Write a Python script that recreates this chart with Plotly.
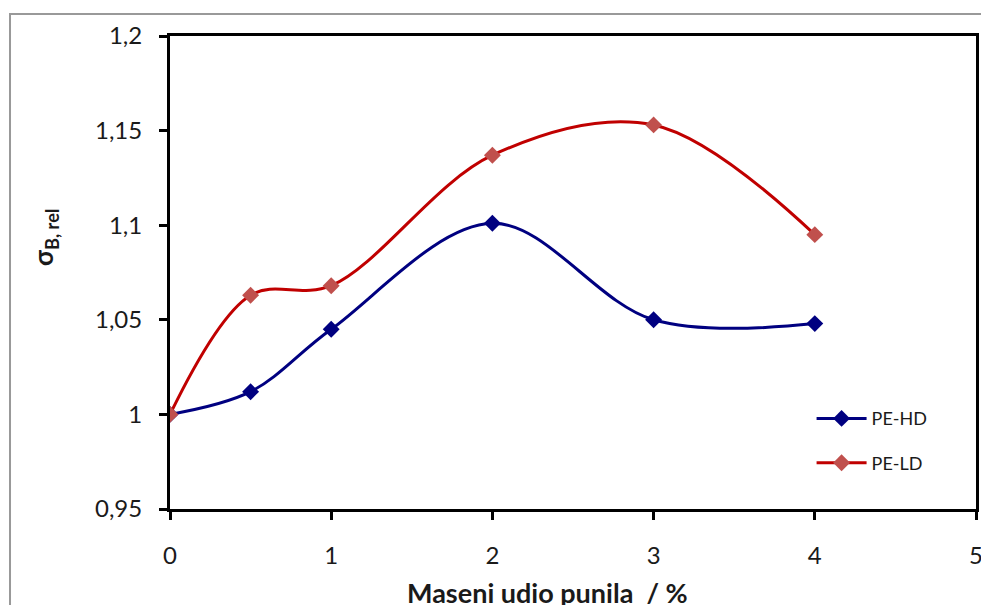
import plotly.graph_objects as go

# Values
filler = [0, 0.5, 1, 2, 3, 4]
pe_hd = [1.0, 1.012, 1.045, 1.101, 1.050, 1.048]
pe_ld = [1.0, 1.063, 1.068, 1.137, 1.153, 1.095]

y_ticks = [0.95, 1.0, 1.05, 1.1, 1.15, 1.2]
y_labels = ["0,95", "1", "1,05", "1,1", "1,15", "1,2"]
x_ticks = [0, 1, 2, 3, 4, 5]

FONT = "Lato, 'Open Sans', sans-serif"
TEXT = "#1a1a1a"

fig = go.Figure()

# PE-HD
fig.add_trace(go.Scatter(
    x=filler, y=pe_hd, mode="lines+markers", name="PE-HD", legendgroup="hd",
    line=dict(color="#000080", width=3, shape="spline", smoothing=1),
    marker=dict(symbol="diamond", size=13, color="#000080"),
))

# PE-LD
fig.add_trace(go.Scatter(
    x=filler, y=pe_ld, mode="lines+markers", name="PE-LD", legendgroup="ld",
    line=dict(color="#C00000", width=3, shape="spline", smoothing=1),
    marker=dict(symbol="diamond", size=13, color="#C0504D"),
))

axis_style = dict(
    showline=True, linecolor="black", linewidth=3, mirror=True,
    ticks="outside", ticklen=8, tickwidth=3, tickcolor="black",
    showgrid=False, zeroline=False, automargin=False,
    tickfont=dict(family=FONT, size=24, color=TEXT),
)

fig.update_xaxes(range=[0, 5], tickvals=x_ticks, ticklabelstandoff=15, **axis_style)
fig.update_yaxes(range=[0.95, 1.2], tickvals=y_ticks, ticktext=y_labels,
                 ticklabelstandoff=12, **axis_style)

# axis titles (placed as annotations, the reference has them off-centre)
fig.add_annotation(text="<b>Maseni udio punila  / %</b>", xref="paper", yref="paper",
                   x=0.468, y=-0.1755, xanchor="center", yanchor="middle",
                   showarrow=False, font=dict(family=FONT, size=27, color=TEXT))
fig.add_annotation(text="<b>σ<sub>B, rel</sub></b>", xref="paper", yref="paper",
                   x=-0.155, y=0.573, xanchor="center", yanchor="middle",
                   textangle=-90, showarrow=False,
                   font=dict(family=FONT, size=26, color=TEXT))

# grey frame around the chart area
fig.add_shape(type="rect", xref="paper", yref="paper",
              x0=-0.1985, x1=1.5, y0=-0.5, y1=1.0465,
              line=dict(color="#999999", width=2), layer="below")

# the page body adds an 8px offset, so the figure is 8px smaller
fig.update_layout(
    width=981, height=597,
    margin=dict(l=162, r=13, t=28, b=96),
    plot_bgcolor="white", paper_bgcolor="white",
    showlegend=True,
    legend=dict(x=0.796, y=0.23, xanchor="left", yanchor="top",
                bgcolor="rgba(0,0,0,0)", tracegroupgap=18, itemwidth=50,
                font=dict(family=FONT, size=18, color=TEXT)),
)

fig.write_html("out.html")
